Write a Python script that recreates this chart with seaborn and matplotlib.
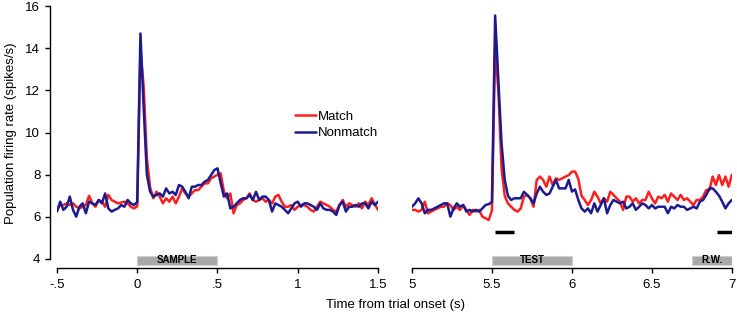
import numpy as np
import pandas as pd
import seaborn as sns
import matplotlib.pyplot as plt
from matplotlib.patches import Rectangle

# time bins (20 ms) for the two epochs
time_sample = np.round(np.arange(-0.5, 1.5001, 0.02), 2)
time_test = np.round(np.arange(5.0, 7.0001, 0.02), 2)

# population firing rate (spikes/s)
match_sample = [6.33, 6.56, 6.56, 6.64, 6.56, 6.64, 6.48, 6.40, 6.48, 6.56,
                7.00, 6.64, 6.48, 6.80, 6.72, 6.48, 7.04, 6.80, 6.72, 6.64,
                6.68, 6.72, 6.64, 6.48, 6.40,
                6.50, 13.90, 12.20, 8.80, 7.40,
                6.88, 7.19, 6.96, 6.64, 6.88, 6.72, 6.96, 6.64, 6.96, 7.35,
                7.11, 6.96, 7.11, 7.27, 7.27, 7.43, 7.59, 7.59, 7.83, 7.91,
                8.00, 8.06,
                7.20, 6.88, 7.11, 6.17, 6.56, 6.64, 6.80, 6.88, 7.11, 6.80,
                6.72, 6.80, 6.88, 6.72, 6.80, 6.64, 6.96, 7.04, 6.72, 6.48,
                6.48, 6.56, 6.33, 6.48, 6.56, 6.56, 6.48, 6.33, 6.25, 6.48,
                6.72, 6.64, 6.56, 6.48, 6.33, 6.25, 6.56, 6.80, 6.48, 6.64,
                6.56, 6.48, 6.64, 6.40, 6.72, 6.56, 6.88, 6.60, 6.33]
nonmatch_sample = [6.25, 6.72, 6.33, 6.48, 6.96, 6.33, 6.01, 6.48, 6.64, 6.17,
                   6.72, 6.64, 6.56, 6.80, 6.64, 7.11, 6.40, 6.25, 6.33, 6.40,
                   6.56, 6.48, 6.80, 6.64, 6.56,
                   6.70, 14.70, 11.20, 8.00,
                   7.20, 6.96, 7.04, 7.11, 6.96, 7.35, 7.11, 7.19, 7.04, 7.51,
                   7.43, 7.19, 6.88, 7.43, 7.43, 7.51, 7.51, 7.67, 7.75, 7.98,
                   8.22,
                   8.30, 7.60,
                   6.96, 7.11, 6.40, 6.48, 6.64, 6.80, 6.88, 6.88, 7.04, 6.80,
                   7.19, 6.80, 6.96, 6.96, 6.80, 6.25, 6.64, 6.56, 6.48, 6.33,
                   6.17, 6.40, 6.64, 6.72, 6.48, 6.64, 6.64, 6.56, 6.48, 6.33,
                   6.64, 6.40, 6.33, 6.33, 6.25, 6.09, 6.56, 6.72, 6.25, 6.48,
                   6.48, 6.56, 6.48, 6.64, 6.64, 6.40, 6.72, 6.56, 6.72]
match_test = [6.33, 6.33, 6.25, 6.33, 6.72, 6.17, 6.25, 6.33, 6.40, 6.48,
              6.48, 6.64, 6.56, 6.33, 6.48, 6.33, 6.56, 6.33, 6.09, 6.33,
              6.25, 6.33, 6.01, 5.93, 5.85,
              6.30, 14.00, 12.00, 8.30, 7.00,
              6.64, 6.48, 6.33, 6.25, 6.40, 6.96, 7.04, 6.88, 6.48, 7.75,
              7.91, 7.75, 7.43, 7.91, 7.51, 7.83, 7.75, 7.83, 7.91, 7.98,
              8.14,
              8.15, 7.80, 7.00, 6.80, 6.56, 6.80, 7.19, 6.96, 6.64, 6.88,
              6.72, 7.19, 7.04, 6.88, 6.72, 6.33, 6.96, 6.96, 6.72, 6.88,
              6.64, 6.80, 6.80, 7.19, 6.88, 6.64, 6.96, 6.88, 7.04, 6.72,
              7.11, 6.96, 6.80, 7.04, 6.80, 6.88, 6.72, 6.56, 6.80, 6.80,
              6.96, 7.27, 7.27, 7.91, 7.51, 7.98, 7.51, 7.91, 7.43, 8.00]
nonmatch_test = [6.48, 6.64, 6.88, 6.64, 6.17, 6.33, 6.33, 6.40, 6.48, 6.56,
                 6.64, 6.64, 6.01, 6.40, 6.64, 6.48, 6.56, 6.25, 6.33, 6.25,
                 6.33, 6.25, 6.40, 6.56, 6.60,
                 6.70, 15.55, 12.50, 9.50, 7.75,
                 7.00, 6.80, 6.88, 6.88, 6.88, 7.19, 7.04, 6.88, 6.64, 7.11,
                 7.43, 7.19, 7.04, 7.11, 7.43, 7.75, 7.35, 7.35, 7.35, 7.75,
                 7.20,
                 7.30, 6.80, 6.40, 6.25, 6.40, 6.17, 6.64, 6.25, 6.56, 6.88,
                 6.17, 6.56, 6.80, 6.72, 6.64, 6.72, 6.40, 6.48, 6.64, 6.33,
                 6.48, 6.64, 6.56, 6.40, 6.56, 6.40, 6.48, 6.48, 6.48, 6.17,
                 6.48, 6.40, 6.56, 6.48, 6.48, 6.33, 6.40, 6.48, 6.40, 6.72,
                 6.80, 7.04, 7.35, 7.35, 7.19, 7.00, 6.72, 6.40, 6.64, 6.80]

sample_ticks = [-0.5, 0, 0.5, 1, 1.5]
sample_ticklabels = ['-.5', '0', '.5', '1', '1.5']
test_ticks = [5, 5.5, 6, 6.5, 7]
test_ticklabels = ['5', '5.5', '6', '6.5', '7']
y_ticks = [4, 6, 8, 10, 12, 14, 16]

# task epochs (label, start, end) and significant bins
epochs_sample = [('SAMPLE', 0.0, 0.5)]
epochs_test = [('TEST', 5.5, 6.0), ('R.W.', 6.75, 7.0)]
sig_test = [(5.52, 5.64), (6.91, 7.0)]
sig_level = 5.3

palette = {'Match': '#ff1f1f', 'Nonmatch': '#1b1b8f'}

def montar(tempo, match, nonmatch):
    df = pd.DataFrame({'time': tempo, 'Match': match, 'Nonmatch': nonmatch})
    return df.melt(id_vars='time', var_name='condition', value_name='rate')

df_sample = montar(time_sample, match_sample, nonmatch_sample)
df_test = montar(time_test, match_test, nonmatch_test)

sns.set_style('ticks')
plt.rcParams['font.family'] = ['Liberation Sans', 'DejaVu Sans']
plt.rcParams['axes.linewidth'] = 1.0
for chave in ['text.color', 'axes.labelcolor', 'xtick.color', 'ytick.color', 'axes.edgecolor']:
    plt.rcParams[chave] = 'black'

fig = plt.figure(figsize=(7.37, 3.19), dpi=100)
ax1 = fig.add_axes([0.0773, 0.161, 0.4356, 0.82])
ax2 = fig.add_axes([0.559, 0.161, 0.434, 0.82])

sns.lineplot(data=df_sample, x='time', y='rate', hue='condition', palette=palette,
             linewidth=1.8, errorbar=None, ax=ax1)
sns.lineplot(data=df_test, x='time', y='rate', hue='condition', palette=palette,
             linewidth=1.8, errorbar=None, legend=False, ax=ax2)

for ax, ticks, labels, epochs in [(ax1, sample_ticks, sample_ticklabels, epochs_sample),
                                  (ax2, test_ticks, test_ticklabels, epochs_test)]:
    ax.set_xlim(ticks[0], ticks[-1])
    ax.set_ylim(3.59, 16)
    ax.set_xticks(ticks)
    ax.set_xticklabels(labels)
    ax.set_xlabel('')
    ax.set_ylabel('')
    ax.tick_params(axis='both', labelsize=9.5, length=3.5, width=1, color='black',
                   labelcolor='black')
    ax.tick_params(axis='x', pad=5)
    for nome, a, b in epochs:
        ax.add_patch(Rectangle((a, 3.72), b - a, 0.42, facecolor='#a9a9a9',
                               edgecolor='#cfcfcf', lw=0.8))
        ax.text((a + b) / 2, 3.94, nome, ha='center', va='center',
                fontsize=7, fontweight='bold', color='black')
    sns.despine(ax=ax)

ax1.set_yticks(y_ticks)
ax1.spines['left'].set_position(('outward', 5))
ax1.spines['left'].set_bounds(4, 16)
ax1.set_ylabel('Population firing rate (spikes/s)', fontsize=9.5, color='black')
ax1.yaxis.set_label_coords(-0.123, 0.515)

ax2.spines['left'].set_visible(False)
ax2.set_yticks([])

for a, b in sig_test:
    ax2.plot([a, b], [sig_level, sig_level], color='black', lw=2.5, solid_capstyle='butt')

handles, labels = ax1.get_legend_handles_labels()
ax1.legend(handles, labels, loc='upper left', bbox_to_anchor=(0.74, 0.60),
           frameon=False, handlelength=1.6, handletextpad=0.15, borderaxespad=0,
           borderpad=0, labelspacing=0.3, fontsize=9.5)

fig.text(0.537, 0.044, 'Time from trial onset (s)', ha='center', va='center',
         fontsize=9.5, color='black')

fig.savefig('out.png', dpi=100)
